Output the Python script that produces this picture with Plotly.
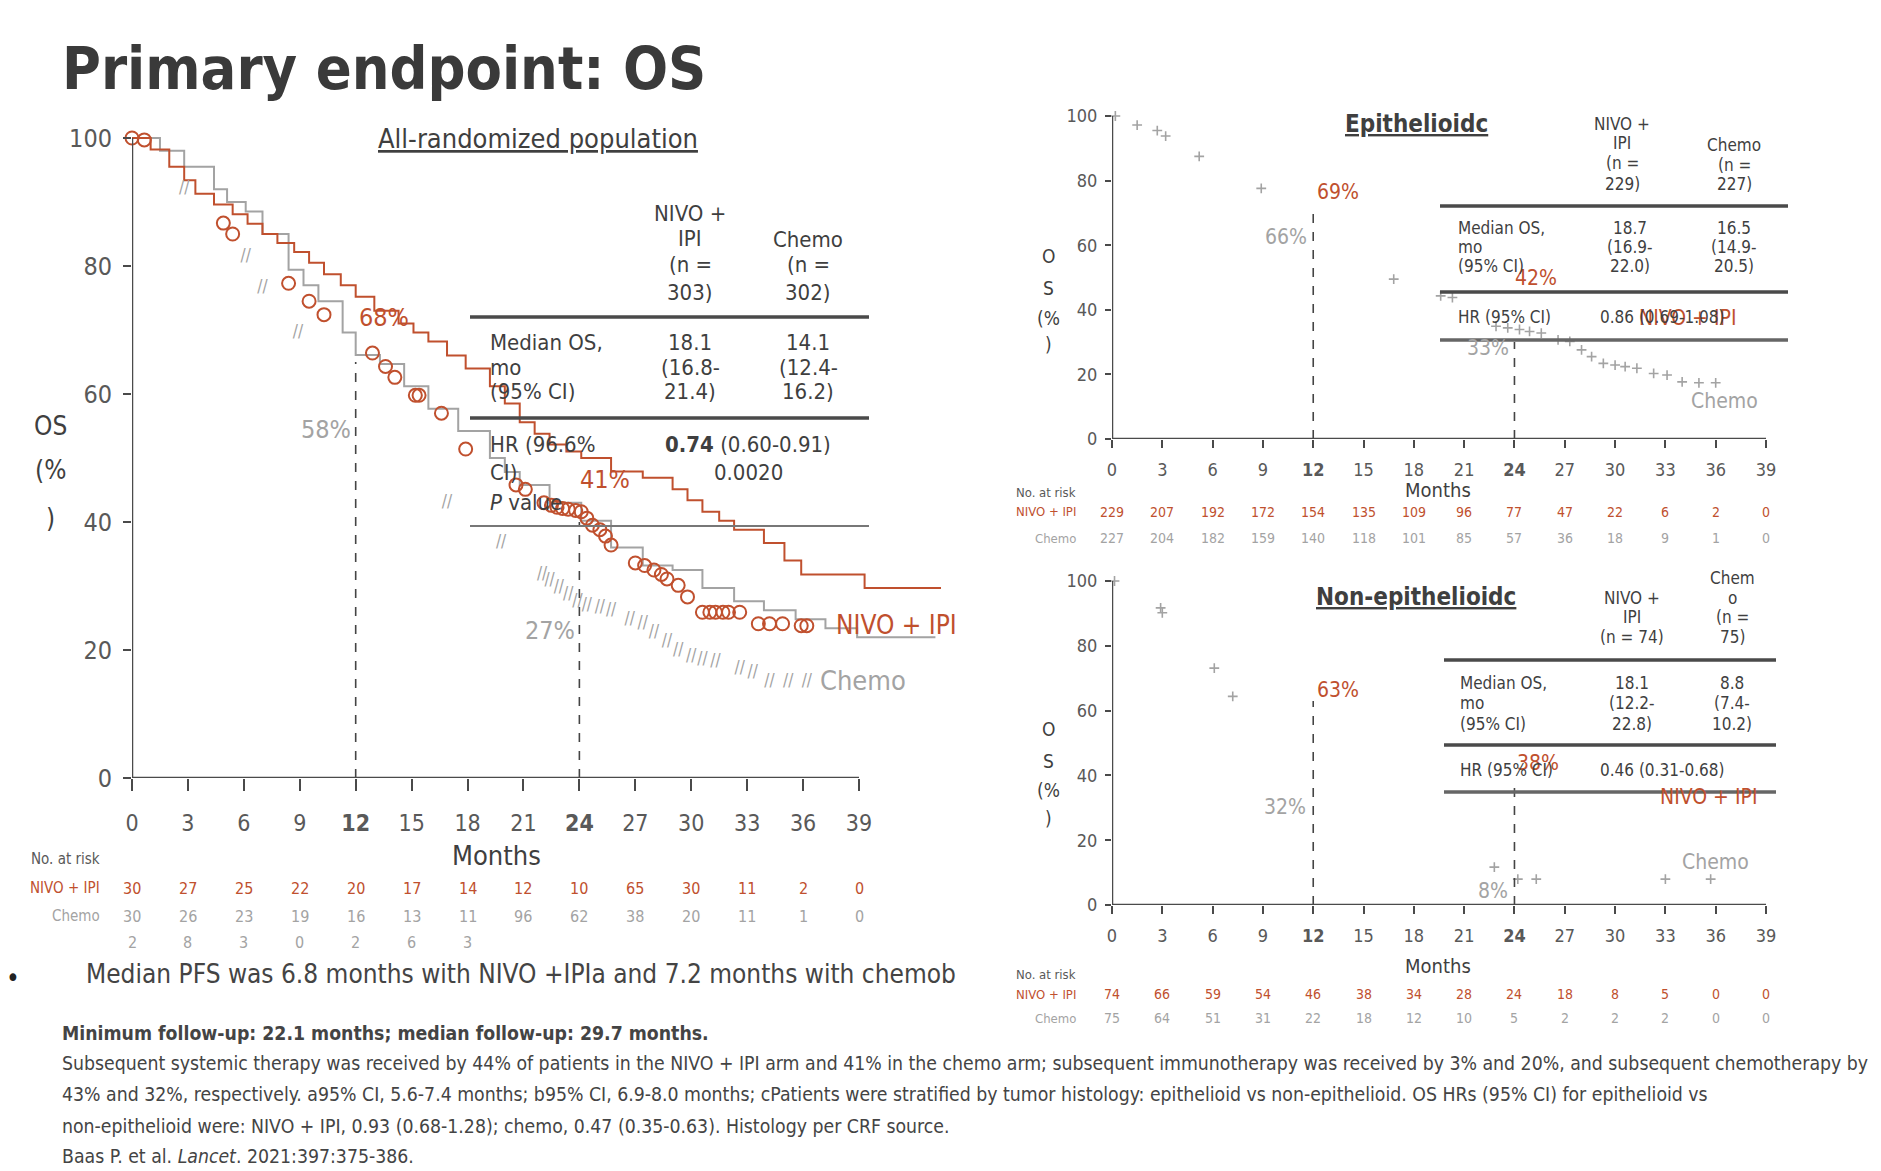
import plotly.graph_objects as go

W, H = 1881, 1171
FONT = "Liberation Sans Narrow, DejaVu Sans Condensed, Arial Narrow, sans-serif"
RED = "#c0502e"
GRAY = "#a3a3a3"
DARK = "#3f3f3f"
MID = "#595959"

# ---------------- data ----------------
tick_months = list(range(0, 40, 3))

# All-randomized population (as drawn in the slide)
main_nivo_m = [0, 1.0, 2.0, 2.8, 3.4, 4.4, 5.4, 6.2, 7.0, 7.8, 8.7, 9.5, 10.3, 11.2, 12.0, 13.0, 14.3, 15.1,
               15.9, 16.9, 17.9, 19.2, 20.0, 20.8, 21.6, 22.4, 23.3, 24.1, 25.7, 27.4, 29.0, 29.8, 30.6,
               31.5, 32.3, 33.9, 35.0, 35.9, 39.3, 43.4]
main_nivo_os = [100, 98.2, 95.5, 93.4, 91.3, 89.6, 88.1, 86.6, 85.0, 83.6, 82.2, 80.5, 78.7, 77.0, 75.2,
                73.0, 71.0, 69.6, 68.2, 66.0, 64.0, 61.2, 58.5, 55.6, 53.8, 52.1, 51.0, 50.0, 47.9, 46.9,
                45.1, 43.4, 41.6, 40.2, 38.8, 36.7, 34.0, 31.8, 29.7, 29.7]

main_chemo_m = [0, 1.5, 2.8, 4.4, 5.1, 6.1, 7.0, 8.4, 9.2, 10.0, 11.3, 12.0, 13.3, 14.6, 15.9, 17.5, 19.2,
                20.0, 20.8, 22.4, 24.1, 25.7, 27.4, 29.0, 30.6, 32.3, 33.9, 35.6, 37.2, 38.9, 43.1]
main_chemo_os = [100, 98.0, 95.5, 92.0, 90.0, 88.5, 85.0, 79.4, 77.0, 74.5, 69.6, 66.1, 64.7, 61.2, 57.7,
                 54.2, 50.0, 47.8, 45.8, 43.0, 40.2, 36.0, 33.2, 32.5, 29.7, 27.6, 26.2, 24.8, 23.4, 22.0,
                 22.0]

main_circle_m = [0, 0.66, 4.9, 5.4, 8.4, 9.5, 10.3, 12.9, 13.6, 14.1, 15.2, 15.4, 16.6, 17.9, 20.6, 21.1,
                 22.1, 22.5, 22.8, 23.1, 23.4, 23.8, 24.1, 24.4, 24.7, 25.1, 25.4, 25.7, 27.0, 27.5, 28.0,
                 28.4, 28.7, 29.3, 29.8, 30.6, 31.0, 31.3, 31.7, 32.0, 32.6, 33.6, 34.2, 34.9, 35.9, 36.2]
main_circle_os = [100, 99.7, 86.7, 85.0, 77.3, 74.5, 72.4, 66.4, 64.3, 62.6, 59.8, 59.8, 57.0, 51.4, 45.8,
                  45.1, 43.0, 42.6, 42.3, 42.1, 42.0, 41.8, 41.6, 40.6, 39.5, 38.8, 37.8, 36.4, 33.6, 33.2,
                  32.5, 31.8, 31.1, 30.1, 28.3, 25.9, 25.9, 25.9, 25.9, 25.9, 25.9, 24.1, 24.1, 24.1, 23.8,
                  23.8]

main_slash_m = [2.8, 6.1, 7.0, 8.9, 16.9, 19.8, 22.0, 22.4, 22.9, 23.4, 23.9, 24.4, 25.1, 25.7, 26.7, 27.4,
                28.0, 28.7, 29.3, 30.0, 30.6, 31.3, 32.6, 33.3, 34.2, 35.2, 36.2]
main_slash_os = [92.0, 81.5, 76.6, 69.6, 43.0, 36.7, 31.8, 30.8, 29.7, 28.7, 27.6, 26.9, 26.6, 26.2, 24.8,
                 24.1, 22.7, 21.3, 19.9, 18.9, 18.5, 18.2, 17.1, 16.4, 15.0, 15.0, 15.0]

landmark_m = [12, 24]
main_landmark_top = [65, 40]
epi_landmark_top = [70, 30]
non_landmark_top = [63, 38]

# Epithelioid censor marks
epi_m = [0.2, 1.5, 2.7, 3.2, 5.2, 8.9, 16.8, 19.6, 20.3, 22.9, 23.6, 24.3, 24.9, 25.6, 26.6, 27.3, 28.0,
         28.6, 29.3, 30.0, 30.6, 31.3, 32.3, 33.1, 34.0, 35.0, 36.0]
epi_os = [100, 97.2, 95.5, 93.8, 87.5, 77.6, 49.5, 44.3, 43.8, 34.9, 34.4, 33.9, 33.3, 32.8, 30.7, 30.2,
          27.6, 25.5, 23.4, 22.9, 22.4, 21.9, 20.3, 19.8, 17.7, 17.4, 17.4]

# Non-epithelioid censor marks
non_m = [0.15, 2.9, 3.0, 6.1, 7.2, 22.8, 24.2, 25.3, 33.0, 35.7]
non_os = [100, 91.7, 90.2, 73.1, 64.4, 11.7, 8.0, 8.0, 8.0, 8.0]

# Numbers at risk (as printed)
main_risk_nivo = ["30", "27", "25", "22", "20", "17", "14", "12", "10", "65", "30", "11", "2", "0"]
main_risk_chemo = ["30", "26", "23", "19", "16", "13", "11", "96", "62", "38", "20", "11", "1", "0"]
main_risk_third = ["2", "8", "3", "0", "2", "6", "3"]
epi_risk_nivo = ["229", "207", "192", "172", "154", "135", "109", "96", "77", "47", "22", "6", "2", "0"]
epi_risk_chemo = ["227", "204", "182", "159", "140", "118", "101", "85", "57", "36", "18", "9", "1", "0"]
non_risk_nivo = ["74", "66", "59", "54", "46", "38", "34", "28", "24", "18", "8", "5", "0", "0"]
non_risk_chemo = ["75", "64", "51", "31", "22", "18", "12", "10", "5", "2", "2", "2", "0", "0"]

tick_text = ["<b>%d</b>" % m if m in (12, 24) else str(m) for m in tick_months]

# ---------------- geometry (pixels) ----------------
MX0, MPM = 132, (859 - 132) / 39.0
MY0, MPP = 778, 6.4
RX0, RPM = 1112, (1766 - 1112) / 39.0
TY0, TPP = 439, 3.23
BY0, BPP = 905, 3.24

def xdom(x0, ppm, span):
    return [x0 / W, (x0 + ppm * span) / W]

def ydom(y0, ppp, span):
    return [1 - y0 / H, 1 - (y0 - ppp * span) / H]

fig = go.Figure()

fig.add_trace(go.Scatter(x=main_chemo_m, y=main_chemo_os, mode="lines", line=dict(color=GRAY, width=2, shape="hv"),
                         xaxis="x", yaxis="y"))
fig.add_trace(go.Scatter(x=main_nivo_m, y=main_nivo_os, mode="lines", line=dict(color=RED, width=2, shape="hv"),
                         xaxis="x", yaxis="y"))
fig.add_trace(go.Scatter(x=main_circle_m, y=main_circle_os, mode="markers",
                         marker=dict(symbol="circle-open", size=13, color=RED, line=dict(width=2, color=RED)),
                         cliponaxis=False, xaxis="x", yaxis="y"))
fig.add_trace(go.Scatter(x=main_slash_m, y=main_slash_os, mode="text", text=["//"] * len(main_slash_m),
                         textfont=dict(family=FONT, size=17, color=GRAY), cliponaxis=False, xaxis="x", yaxis="y"))

def landmarks(tops, xa, ya):
    xs, ys = [], []
    for m, t in zip(landmark_m, tops):
        xs += [m, m, None]
        ys += [0, t, None]
    fig.add_trace(go.Scatter(x=xs, y=ys, mode="lines", line=dict(color="#444444", width=1.6, dash="dash"),
                             xaxis=xa, yaxis=ya))

landmarks(main_landmark_top, "x", "y")

fig.add_trace(go.Scatter(x=epi_m, y=epi_os, mode="markers",
                         marker=dict(symbol="cross-thin", size=7, line=dict(width=1.6, color=GRAY)),
                         cliponaxis=False, xaxis="x2", yaxis="y2"))
landmarks(epi_landmark_top, "x2", "y2")
fig.add_trace(go.Scatter(x=non_m, y=non_os, mode="markers",
                         marker=dict(symbol="cross-thin", size=7, line=dict(width=1.6, color=GRAY)),
                         cliponaxis=False, xaxis="x3", yaxis="y3"))
landmarks(non_landmark_top, "x3", "y3")

ann = []
shapes = []

def A(x, y, text, size, color=DARK, xa="center", ya="middle", xref="paper", yref="paper"):
    if xref == "paper":
        x = x / W
    if yref == "paper":
        y = 1 - y / H
    ann.append(dict(x=x, y=y, xref=xref, yref=yref, text=text, showarrow=False,
                    font=dict(family=FONT, size=size, color=color), xanchor=xa, yanchor=ya))

def ML(x, ys, lines, size, color=DARK, xa="center"):
    for yy, t in zip(ys, lines):
        A(x, yy, t, size, color, xa)

def HL(x0, x1, y, width=3, color="#4a4a4a"):
    shapes.append(dict(type="line", xref="paper", yref="paper", x0=x0 / W, x1=x1 / W,
                       y0=1 - y / H, y1=1 - y / H, line=dict(color=color, width=width)))

def axis_lines(xa, ya, width):
    shapes.append(dict(type="line", xref=xa, yref=ya, x0=0, x1=39, y0=0, y1=0,
                       line=dict(color="#4a4a4a", width=width)))
    shapes.append(dict(type="line", xref=xa, yref=ya, x0=0, x1=0, y0=0, y1=100,
                       line=dict(color="#4a4a4a", width=width)))

axis_lines("x", "y", 2.5)
axis_lines("x2", "y2", 2.5)
axis_lines("x3", "y3", 2.5)

# ---- titles
A(60, 68, "<b>Primary endpoint: OS</b>", 59, "#3a3a3a", xa="left")
A(538, 139, "<u>All-randomized population</u>", 27, DARK)
A(1416, 124, "<b><u>Epithelioidc</u></b>", 24, DARK)
A(1416, 597, "<b><u>Non-epithelioidc</u></b>", 24, DARK)

# ---- main chart texts
ML(50, [426, 470, 518], ["OS", "(%", ")"], 26, DARK)
A(496, 855, "Months", 27, DARK)
A(13.5, 71.9, "68%", 25, RED, xref="x", yref="y")
A(10.4, 54.4, "58%", 25, GRAY, xref="x", yref="y")
A(25.4, 46.6, "41%", 25, RED, xref="x", yref="y")
A(22.4, 23.1, "27%", 25, GRAY, xref="x", yref="y")
A(41.0, 23.9, "NIVO + IPI", 26, RED, xref="x", yref="y")
A(39.2, 15.3, "Chemo", 27, GRAY, xref="x", yref="y")

# main table
ML(690, [214, 238, 264, 292], ["NIVO +", "IPI", "(n =", "303)"], 22, DARK)
ML(808, [240, 264, 292], ["Chemo", "(n =", "302)"], 22, DARK)
HL(470, 869, 317, 3.5)
ML(488, [342, 367, 392], ["Median OS,", "mo", "(95% CI)"], 22, DARK, xa="left")
ML(690, [342, 367, 392], ["18.1", "(16.8-", "21.4)"], 22, DARK)
ML(808, [342, 367, 392], ["14.1", "(12.4-", "16.2)"], 22, DARK)
HL(470, 869, 418, 3.5)
ML(488, [444, 472, 502], ["HR (96.6%", "CI)", "<i>P</i> value"], 22, DARK, xa="left")
A(748, 444, "<b>0.74</b> (0.60-0.91)", 22, DARK)
A(748, 472, "0.0020", 22, DARK)
HL(470, 869, 526, 2.2, "#777777")

# main at-risk
A(102, 859, "No. at risk", 15, MID, xa="right")
A(102, 888, "NIVO + IPI", 15, RED, xa="right")
A(102, 916, "Chemo", 15, GRAY, xa="right")
for m, v in zip(tick_months, main_risk_nivo):
    A(m, 888, v, 16, RED, xref="x")
for m, v in zip(tick_months, main_risk_chemo):
    A(m, 916, v, 16, GRAY, xref="x")
for m, v in zip(tick_months, main_risk_third):
    A(m, 942, v, 16, GRAY, xref="x")

# ---- epithelioid texts
ML(1048, [256, 288, 318, 344], ["O", "S", "(%", ")"], 19, DARK)
A(1438, 490, "Months", 20, DARK)
A(13.5, 76.6, "69%", 21, RED, xref="x2", yref="y2")
A(10.4, 62.5, "66%", 21, GRAY, xref="x2", yref="y2")
A(25.3, 49.8, "42%", 21, RED, xref="x2", yref="y2")
A(22.4, 28.3, "33%", 21, GRAY, xref="x2", yref="y2")
A(34.3, 37.5, "NIVO + IPI", 21, RED, xref="x2", yref="y2")
A(36.5, 11.9, "Chemo", 21, GRAY, xref="x2", yref="y2")
ML(1622, [124, 143, 163, 184], ["NIVO +", "IPI", "(n =", "229)"], 17, DARK)
ML(1734, [145, 165, 184], ["Chemo", "(n =", "227)"], 17, DARK)
HL(1440, 1788, 206, 3.5)
ML(1456, [228, 247, 266], ["Median OS,", "mo", "(95% CI)"], 17, DARK, xa="left")
ML(1630, [228, 247, 266], ["18.7", "(16.9-", "22.0)"], 17, DARK)
ML(1734, [228, 247, 266], ["16.5", "(14.9-", "20.5)"], 17, DARK)
HL(1440, 1788, 292, 3.5)
A(1456, 317, "HR (95% CI)", 17, DARK, xa="left")
A(1662, 317, "0.86 (0.69-1.08)", 17, DARK)
HL(1440, 1788, 340, 3.5, "#666666")
A(1078, 492, "No. at risk", 13, MID, xa="right")
A(1078, 512, "NIVO + IPI", 13, RED, xa="right")
A(1078, 538, "Chemo", 13, GRAY, xa="right")
for m, v in zip(tick_months, epi_risk_nivo):
    A(m, 512, v, 14, RED, xref="x2")
for m, v in zip(tick_months, epi_risk_chemo):
    A(m, 538, v, 14, GRAY, xref="x2")

# ---- non-epithelioid texts
ML(1048, [729, 761, 790, 818], ["O", "S", "(%", ")"], 19, DARK)
A(1438, 966, "Months", 20, DARK)
A(13.5, 66.3, "63%", 21, RED, xref="x3", yref="y3")
A(10.3, 30.4, "32%", 21, GRAY, xref="x3", yref="y3")
A(25.4, 43.7, "38%", 21, RED, xref="x3", yref="y3")
A(22.7, 4.4, "8%", 21, GRAY, xref="x3", yref="y3")
A(35.6, 33.3, "NIVO + IPI", 21, RED, xref="x3", yref="y3")
A(36.0, 13.3, "Chemo", 21, GRAY, xref="x3", yref="y3")
ML(1632, [598, 617, 637], ["NIVO +", "IPI", "(n = 74)"], 17, DARK)
ML(1732, [578, 598, 617, 637], ["Chem", "o", "(n =", "75)"], 17, DARK)
HL(1444, 1776, 660, 3.5)
ML(1458, [683, 703, 724], ["Median OS,", "mo", "(95% CI)"], 17, DARK, xa="left")
ML(1632, [683, 703, 724], ["18.1", "(12.2-", "22.8)"], 17, DARK)
ML(1732, [683, 703, 724], ["8.8", "(7.4-", "10.2)"], 17, DARK)
HL(1444, 1776, 745, 3.5)
A(1458, 770, "HR (95% CI)", 17, DARK, xa="left")
A(1662, 770, "0.46 (0.31-0.68)", 17, DARK)
HL(1444, 1776, 792, 3.5, "#666666")
A(1078, 974, "No. at risk", 13, MID, xa="right")
A(1078, 994, "NIVO + IPI", 13, RED, xa="right")
A(1078, 1018, "Chemo", 13, GRAY, xa="right")
for m, v in zip(tick_months, non_risk_nivo):
    A(m, 994, v, 14, RED, xref="x3")
for m, v in zip(tick_months, non_risk_chemo):
    A(m, 1018, v, 14, GRAY, xref="x3")

# ---- bullet + footnotes
A(4, 978, "•", 26, "#222222", xa="left")
A(84, 974, "Median PFS was 6.8 months with NIVO +IPIa and 7.2 months with chemob", 26, "#444444", xa="left")
foot = [
    "<b>Minimum follow-up: 22.1 months; median follow-up: 29.7 months.</b>",
    "Subsequent systemic therapy was received by 44% of patients in the NIVO + IPI arm and 41% in the chemo arm; "
    "subsequent immunotherapy was received by 3% and 20%, and subsequent chemotherapy by",
    "43% and 32%, respectively. a95% CI, 5.6-7.4 months; b95% CI, 6.9-8.0 months; cPatients were stratified by "
    "tumor histology: epithelioid vs non-epithelioid. OS HRs (95% CI) for epithelioid vs",
    "non-epithelioid were: NIVO + IPI, 0.93 (0.68-1.28); chemo, 0.47 (0.35-0.63). Histology per CRF source.",
    "Baas P. et al. <i>Lancet</i>. 2021:397:375-386.",
]
for yy, t in zip([1033, 1063, 1094, 1126, 1156], foot):
    A(60, yy, t, 19.3, "#444444", xa="left")

def xaxis_cfg(x0, ppm, span, size, ticklen, standoff):
    return dict(domain=xdom(x0, ppm, span), range=[0, span], tickvals=tick_months, ticktext=tick_text,
                ticks="outside", ticklen=ticklen, tickwidth=2, tickcolor="#4a4a4a", showline=False,
                showgrid=False, zeroline=False, tickfont=dict(family=FONT, size=size, color=MID),
                ticklabelstandoff=standoff, fixedrange=True, automargin=False)

def yaxis_cfg(y0, ppp, span, size, ticklen, standoff):
    return dict(domain=ydom(y0, ppp, span), range=[0, span], tickvals=[0, 20, 40, 60, 80, 100],
                ticks="outside", ticklen=ticklen, tickwidth=2, tickcolor="#4a4a4a", showline=False,
                showgrid=False, zeroline=False, tickfont=dict(family=FONT, size=size, color=MID),
                ticklabelstandoff=standoff, fixedrange=True, automargin=False)

fig.update_layout(
    width=W, height=H, margin=dict(l=0, r=0, t=0, b=0, autoexpand=False),
    paper_bgcolor="white", plot_bgcolor="rgba(0,0,0,0)", showlegend=False,
    xaxis=xaxis_cfg(MX0, MPM, 44, 23, 12, 12),
    yaxis=yaxis_cfg(MY0, MPP, 105, 25, 8, 6),
    xaxis2=dict(xaxis_cfg(RX0, RPM, 40, 18, 8, 6), anchor="y2"),
    yaxis2=dict(yaxis_cfg(TY0, TPP, 104, 18, 6, 4), anchor="x2"),
    xaxis3=dict(xaxis_cfg(RX0, RPM, 40, 18, 8, 6), anchor="y3"),
    yaxis3=dict(yaxis_cfg(BY0, BPP, 104, 18, 6, 4), anchor="x3"),
    annotations=ann, shapes=shapes,
)

fig.write_html("out.html", config={"displayModeBar": False},
               post_script="document.body.style.margin='0';document.body.style.overflow='hidden';")
